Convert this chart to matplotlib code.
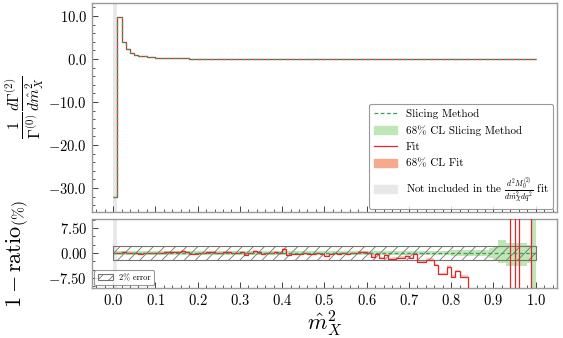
import numpy as np
import matplotlib
matplotlib.use("Agg")
import matplotlib.pyplot as plt
from matplotlib.ticker import MultipleLocator, FuncFormatter
from matplotlib.patches import Patch
from matplotlib.lines import Line2D

plt.rcParams['font.family'] = 'serif'
plt.rcParams['font.serif'] = ['cmr10']
plt.rcParams['mathtext.fontset'] = 'cm'
plt.rcParams['axes.formatter.use_mathtext'] = True
plt.rcParams['hatch.color'] = '0.45'
plt.rcParams['hatch.linewidth'] = 0.6

# ---------------- data ----------------
bin_edges = [round(0.01 * i, 2) for i in range(101)]

spectrum = [
    -32.0, 9.7, 4.0, 2.2, 1.4, 1.0, 0.75, 0.58, 0.46, 0.38,
    0.32, 0.27, 0.23, 0.20, 0.17, 0.15, 0.13, 0.12, 0.10, 0.09,
    0.08, 0.075, 0.07, 0.065, 0.06, 0.058, 0.055, 0.052, 0.05, 0.048,
    0.046, 0.044, 0.042, 0.04, 0.039, 0.038, 0.037, 0.036, 0.035, 0.034,
    0.033, 0.032, 0.031, 0.03, 0.03, 0.029, 0.028, 0.028, 0.027, 0.026,
    0.026, 0.025, 0.025, 0.024, 0.024, 0.023, 0.023, 0.022, 0.022, 0.021,
    0.021, 0.02, 0.02, 0.019, 0.019, 0.018, 0.018, 0.017, 0.017, 0.016,
    0.016, 0.015, 0.015, 0.014, 0.014, 0.013, 0.013, 0.012, 0.012, 0.011,
    0.011, 0.010, 0.010, 0.009, 0.009, 0.008, 0.008, 0.007, 0.007, 0.006,
    0.006, 0.005, 0.005, 0.004, 0.004, 0.003, 0.003, 0.002, 0.002, 0.001,
]

fit_ratio = [
    0.0, 0.0, 0.2, -0.1, 0.1, 0.0, -0.2, 0.1, 0.0, -0.1,
    0.1, 0.0, 0.2, 0.4, 0.3, 0.2, 0.5, 0.3, -0.4, -0.2,
    -0.1, 0.1, 0.3, 0.2, 0.0, 0.1, 0.2, 0.3, 0.1, 0.0,
    0.2, -0.6, 0.0, 0.5, 0.4, -0.2, 0.1, 0.0, 0.3, 0.1,
    1.1, -0.5, -0.3, -0.2, -0.3, -0.1, -0.2, -0.3, -0.1, -0.2,
    -0.9, -0.3, -0.1, -0.2, 0.0, -0.2, -0.1, 0.0, 0.2, 0.4,
    0.1, -1.1, -0.2, -1.6, -0.6, -1.8, -1.7, -1.6, -1.4, -0.8,
    -1.6, -0.4, -2.6, -2.6, -2.0, -2.0, -3.6, -6.3, -6.3, -4.1,
    -7.1, -5.5, -7.1, -7.1, -20.0, -25.0, -30.0, -35.0, -40.0, -45.0,
    -50.0, -55.0, -60.0, -60.0, 60.0, -60.0, 60.0, 60.0, 60.0, -60.0,
]

slicing_hi = [0.5] * 60 + [0.7] * 20 + [1.0] * 9 + [1.5, 2.0, 4.0, 4.0, 3.0, 3.0, 3.0, 3.0, 3.0, 2.5, 40.0]
slicing_lo = [-0.5] * 60 + [-0.7] * 20 + [-1.0] * 9 + [-1.5, -2.0, -3.0, -3.0, -4.0, -4.0, -4.0, -4.0, -4.0, -3.0, -40.0]

excluded_range = [0.0, 0.01]
error_band = [-2.0, 2.0]

# ---------------- styles ----------------
c_green = '#3f9a5f'
c_green_band = '#bfe6b5'
c_red = '#e0262a'
c_salmon = '#f7a98b'
c_gray = '#e8e8e8'
spine_col = '0.6'

fig = plt.figure(figsize=(5.63, 3.38), dpi=100)
ax1 = fig.add_axes([0.1634, 0.3728, 0.8256, 0.6182])
ax2 = fig.add_axes([0.1634, 0.148, 0.8256, 0.204])

edges = np.array(bin_edges)
spec = np.array(spectrum)

# top panel
ax1.axvspan(*excluded_range, color=c_gray, lw=0, zorder=0)
ax1.stairs(spec, edges, baseline=None, color=c_red, lw=0.9, zorder=3)
ax1.stairs(spec, edges, baseline=None, color=c_green, lw=0.9, ls=(0, (3, 2)), zorder=4)
ax1.set_xlim(-0.05, 1.05)
ax1.set_ylim(-35.6, 13.0)

# bottom panel
ax2.axvspan(*excluded_range, color=c_gray, lw=0, zorder=0)
ax2.stairs(np.array(slicing_hi), edges, baseline=np.array(slicing_lo), fill=True,
           color=c_green_band, lw=0, zorder=1)
fr = np.array(fit_ratio)
ax2.stairs(fr + 0.35, edges, baseline=fr - 0.35, fill=True, color=c_salmon, alpha=0.6, lw=0, zorder=2)
ax2.stairs(fr, edges, baseline=None, color=c_red, lw=0.9, zorder=4)
ax2.plot([edges[0], edges[-1]], [0, 0], color=c_green, lw=0.9, ls=(0, (3, 2)), zorder=5)
ax2.fill_between([edges[0], edges[-1]], error_band[0], error_band[1],
                 facecolor='none', edgecolor='0.45', hatch='///', lw=0.8, zorder=3)
ax2.set_xlim(-0.05, 1.05)
ax2.set_ylim(-10.5, 10.2)

fmt1 = FuncFormatter(lambda v, p: f"${v:.1f}$")
fmt2 = FuncFormatter(lambda v, p: f"${v:.2f}$")

for ax in (ax1, ax2):
    for s in ax.spines.values():
        s.set_color(spine_col)
        s.set_linewidth(1.0)
    ax.xaxis.set_major_locator(MultipleLocator(0.1))
    ax.xaxis.set_minor_locator(MultipleLocator(0.02))
    ax.tick_params(which='both', direction='in', labelsize=10.5, color='0.25')
    ax.tick_params(which='major', length=4, width=0.7)
    ax.tick_params(which='minor', length=2, width=0.6)

ax1.yaxis.set_major_locator(MultipleLocator(10))
ax1.yaxis.set_minor_locator(MultipleLocator(2))
ax1.yaxis.set_major_formatter(fmt1)
ax1.tick_params(axis='x', labelbottom=False)

ax2.yaxis.set_major_locator(MultipleLocator(7.5))
ax2.yaxis.set_minor_locator(MultipleLocator(2.5))
ax2.yaxis.set_major_formatter(fmt2)
ax2.xaxis.set_major_formatter(fmt1)

ax1.set_ylabel(r"$\frac{1}{\Gamma^{(0)}}\frac{d\Gamma^{(2)}}{d\hat{m}_X^2}$", fontsize=16)
ax1.yaxis.set_label_coords(-0.10, 0.5)
ax2.set_ylabel(r"$1-\mathrm{ratio}_{(\%)}$", fontsize=16)
ax2.yaxis.set_label_coords(-0.132, 0.5)
ax2.set_xlabel(r"$\hat{m}_X^2$", fontsize=16, labelpad=0)

handles = [
    Line2D([], [], color=c_green, lw=0.9, ls=(0, (3, 2))),
    Patch(color=c_green_band),
    Line2D([], [], color=c_red, lw=0.9),
    Patch(color=c_salmon),
    Patch(color=c_gray),
]
labels = [
    "Slicing Method",
    "68% CL Slicing Method",
    "Fit",
    "68% CL Fit",
    r"Not included in the $\frac{d^2 M_0^{(2)}}{d\hat{m}_X^2 dq^2}$ fit",
]
leg = ax1.legend(handles, labels, loc='lower right', fontsize=8, frameon=True,
                 fancybox=True, edgecolor='0.5', borderaxespad=0.3,
                 handlelength=2.1, labelspacing=0.6)
leg.get_frame().set_linewidth(0.8)

leg2 = ax2.legend([Patch(facecolor='none', edgecolor='0.45', hatch='///', lw=0.8)], ["2% error"],
                  loc='lower left', fontsize=6, frameon=True, edgecolor='0.5',
                  borderaxespad=0.3, handlelength=1.8)
leg2.get_frame().set_linewidth(0.8)

fig.savefig("out.png", dpi=100)
